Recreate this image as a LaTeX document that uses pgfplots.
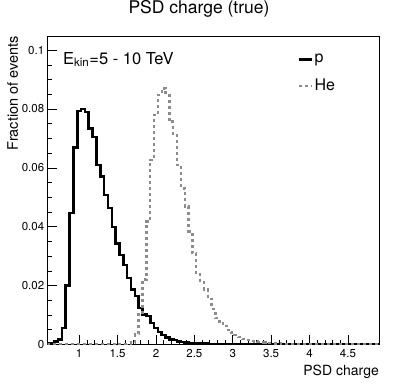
\documentclass[border=0pt]{standalone}
\usepackage{fontspec}
\setmainfont{TeX Gyre Heros}
\usepackage{pgfplots}
\pgfplotsset{compat=1.18}
\usepackage{pgfplotstable}
\definecolor{hegray}{rgb}{0.55,0.55,0.55}

\pgfplotstableread{
x y
0.575 0.0002
0.625 0.0005
0.675 0.0009
0.725 0.0017
0.775 0.0056
0.825 0.0200
0.875 0.0446
0.925 0.0669
0.975 0.0793
1.025 0.0800
1.075 0.0789
1.125 0.0734
1.175 0.0704
1.225 0.0610
1.275 0.0570
1.325 0.0508
1.375 0.0463
1.425 0.0399
1.475 0.0342
1.525 0.0303
1.575 0.0269
1.625 0.0226
1.675 0.0186
1.725 0.0164
1.775 0.0124
1.825 0.0101
1.875 0.0096
1.925 0.0073
1.975 0.0056
2.025 0.0042
2.075 0.0031
2.125 0.0024
2.175 0.0017
2.225 0.0014
2.275 0.0010
2.325 0.0008
2.375 0.0006
2.425 0.0005
2.475 0.0004
2.525 0.0003
2.575 0.00025
2.625 0.0002
2.675 0.00015
2.725 0.00012
2.775 0.0001
2.825 0.00008
2.925 0.00006
3.025 0.00004
3.525 0.00002
4.025 0.00001
4.925 0.00001
}\ptable

\pgfplotstableread{
x y
0.575 0.00001
1.475 0.00005
1.525 0.0001
1.575 0.0001
1.625 0.0003
1.675 0.0006
1.725 0.0034
1.775 0.0107
1.825 0.0220
1.875 0.0417
1.925 0.0627
1.975 0.0780
2.025 0.0848
2.075 0.0870
2.125 0.0854
2.175 0.0757
2.225 0.0712
2.275 0.0610
2.325 0.0530
2.375 0.0468
2.425 0.0384
2.475 0.0311
2.525 0.0243
2.575 0.0215
2.625 0.0186
2.675 0.0153
2.725 0.0119
2.775 0.0090
2.825 0.0073
2.875 0.0062
2.925 0.0049
2.975 0.0040
3.025 0.0032
3.075 0.0025
3.125 0.0018
3.175 0.0014
3.225 0.0011
3.275 0.0009
3.325 0.0007
3.375 0.0006
3.425 0.0005
3.475 0.0004
3.525 0.0003
3.575 0.0003
3.625 0.0002
3.675 0.0002
3.725 0.00015
3.775 0.00012
3.825 0.0001
3.925 0.00006
4.125 0.00003
4.925 0.00003
}\hetable

\begin{document}
\begin{tikzpicture}
\begin{axis}[
  scale only axis,
  width=331.3pt, height=308.3pt,
  xmin=0.59, xmax=4.905,
  ymin=0, ymax=0.1048,
  axis line style={black, line width=0.5pt},
  tick pos=left,
  tick align=inside,
  major tick length=9pt,
  minor tick length=4.5pt,
  every tick/.style={black, line width=0.5pt},
  xtick={1,1.5,2,2.5,3,3.5,4,4.5},
  xticklabels={1,1.5,2,2.5,3,3.5,4,4.5},
  minor x tick num=4,
  ytick={0,0.02,0.04,0.06,0.08,0.1},
  yticklabels={0,0.02,0.04,0.06,0.08,0.1},
  minor y tick num=3,
  scaled ticks=false,
  /pgf/number format/assume math mode=true,
  ticklabel style={font=\fontsize{11.5}{13}\selectfont},
  xticklabel style={yshift=-1.5pt},
  yticklabel style={xshift=0pt},
  title={PSD charge (true)},
  title style={font=\fontsize{17.5}{20}\selectfont, at={(rel axis cs:0.4567,1.0551)}, anchor=base, inner sep=0pt},
  xlabel={PSD charge},
  xlabel style={font=\fontsize{14}{16}\selectfont, at={(rel axis cs:1,-0.0996)}, anchor=base east, inner sep=0pt},
  ylabel={Fraction of events},
  ylabel style={font=\fontsize{14.5}{16}\selectfont, at={(rel axis cs:-0.0887,1)}, anchor=south east, inner sep=0pt},
  legend style={at={(rel axis cs:0.755,0.945)}, anchor=north west, draw=none, fill=none,
    font=\fontsize{16}{19}\selectfont, inner sep=0pt, row sep=13pt,
    nodes={inner sep=1pt}},
  legend cell align=left,
  legend image code/.code={\draw[#1] (0pt,0pt) -- (13pt,0pt);},
]
\addplot[const plot mark left, black, line width=2.6pt, line join=miter] table[x=x,y=y] {\ptable};
\addlegendentry{p}
\addplot[const plot mark left, hegray, line width=2.4pt, dash pattern=on 3pt off 3pt] table[x=x,y=y] {\hetable};
\addlegendentry{He}
\node[anchor=base west, inner sep=0pt, font=\fontsize{16.5}{19}\selectfont] at (rel axis cs:0.046,0.909) {E\textsubscript{kin}=5 - 10 TeV};
\end{axis}
\pgfresetboundingbox
\useasboundingbox (current axis.south west) ++(-47.7pt,-43.7pt) rectangle ++(399pt,388pt);
\end{tikzpicture}
\end{document}
